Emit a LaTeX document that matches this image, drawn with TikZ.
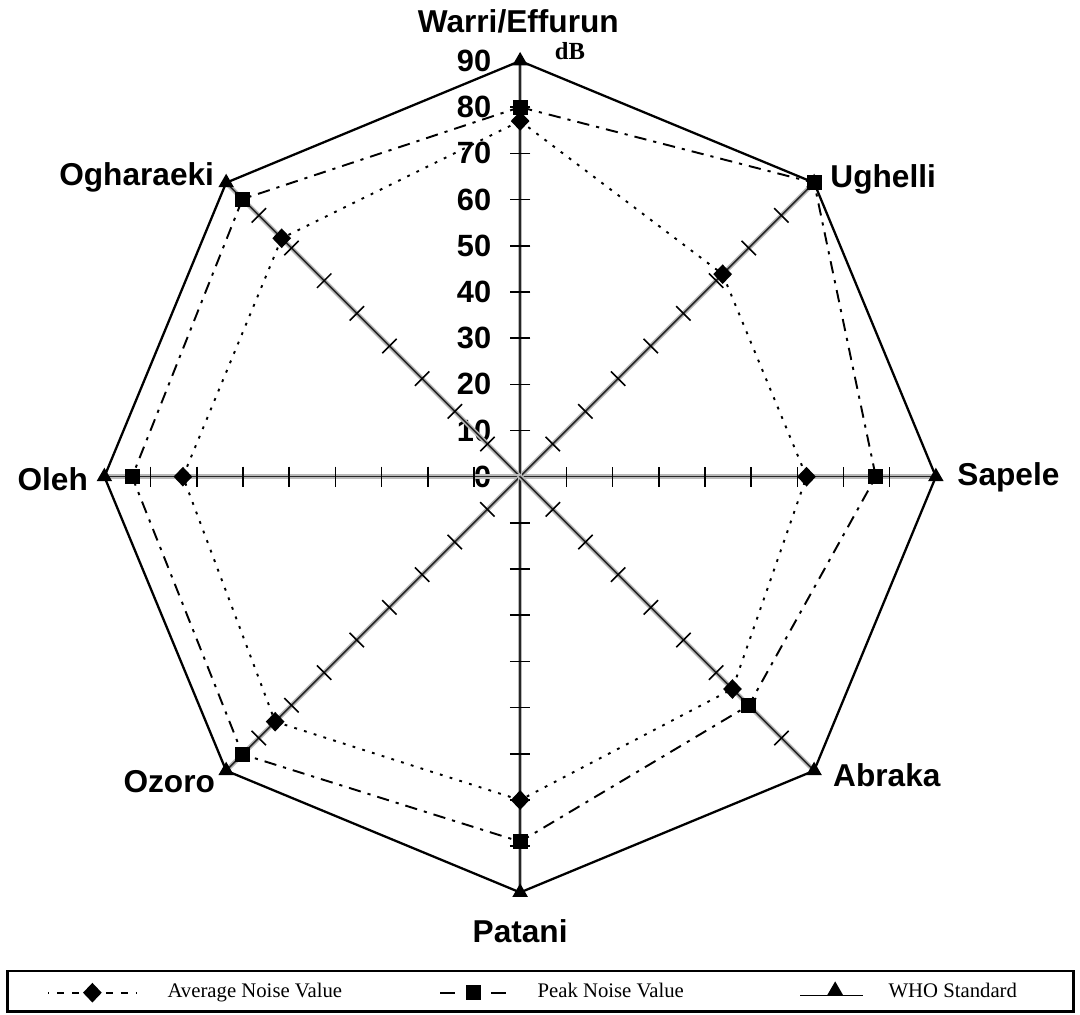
\documentclass[tikz,border=0pt]{standalone}
\usepackage{fontspec}
\setmainfont{Liberation Serif}
\setsansfont{Liberation Sans}
\usetikzlibrary{calc}
\usetikzlibrary{shapes.geometric}

\tikzset{
  axisband/.style={gray!55,line width=2.6pt},
  axisline/.style={black!85,line width=0.9pt},
  tickline/.style={black,line width=0.9pt},
  avgline/.style={black,line width=1.1pt,dash pattern=on 1.6pt off 4.2pt},
  peakline/.style={black,line width=1.1pt,dash pattern=on 7pt off 4pt on 1.8pt off 4pt},
  wholine/.style={black,line width=1.3pt},
  avgmark/.style={diamond,fill=black,inner sep=0pt,minimum width=0.38cm,minimum height=0.40cm},
  peakmark/.style={rectangle,fill=black,inner sep=0pt,minimum size=0.30cm},
  whomark/.style={regular polygon,regular polygon sides=3,fill=black,inner sep=0pt,minimum size=0.36cm},
  site/.style={font=\fontsize{18}{20}\sffamily\bfseries,inner sep=0pt},
  dblabel/.style={font=\fontsize{17.5}{20}\sffamily\bfseries,inner sep=0pt,anchor=east},
  legtext/.style={font=\fontsize{11.8}{13}\rmfamily,inner sep=0pt,anchor=west,text height=1.6ex,text depth=.35ex},
}

\begin{document}
\begin{tikzpicture}[x=0.0924cm,y=0.0924cm]
\useasboundingbox (-112.6,-116.5) rectangle (121.2,103.2);
\coordinate(O) at (0,0);

% scale on the Warri axis
\foreach \v in {0,10,...,90}
  \node[dblabel] (lab\v) at (-6.2,\v) {\v};
\node[font=\fontsize{14}{16}\rmfamily\bfseries,inner sep=0pt] (unit) at (10.8,92.2) {dB};

% eight axes with ticks
\foreach \a in {0,45,...,315}{
  \draw[axisband] (O) -- (\a:90);
  \draw[axisline] (O) -- (\a:90);
  \foreach \r in {10,20,...,80}
    \draw[tickline,rotate=\a] (\r,-2.2) -- (\r,2.2);
}

% data points, starting at Warri and going clockwise
\foreach \v [count=\i] in {77,62,62,65,70,75,73,73}
  \coordinate (A\i) at ({90-45*(\i-1)}:\v);
\foreach \v [count=\i] in {80,90,77,70,79,85,84,85}
  \coordinate (P\i) at ({90-45*(\i-1)}:\v);
\foreach \v [count=\i] in {90,90,90,90,90,90,90,90}
  \coordinate (W\i) at ({90-45*(\i-1)}:\v);

\draw[wholine] (W1)--(W2)--(W3)--(W4)--(W5)--(W6)--(W7)--(W8)--cycle;
\draw[peakline] (P1)--(P2)--(P3)--(P4)--(P5)--(P6)--(P7)--(P8)--cycle;
\draw[avgline] (A1)--(A2)--(A3)--(A4)--(A5)--(A6)--(A7)--(A8)--cycle;

\foreach \i in {1,...,8}{
  \node[whomark] (w\i) at (W\i) {};
  \node[avgmark] (a\i) at (A\i) {};
  \node[peakmark] (p\i) at (P\i) {};
}

% site names
\node[site] (warri) at (-0.4,98.5) {Warri/Effurun};
\node[site,anchor=west] (ughelli) at (67.1,64.3) {Ughelli};
\node[site,anchor=west] (sapele) at (94.6,-0.2) {Sapele};
\node[site,anchor=west] (abraka) at (67.7,-64.7) {Abraka};
\node[site] (patani) at (0,-98.3) {Patani};
\node[site,anchor=east] (ozoro) at (-66.0,-66.0) {Ozoro};
\node[site,anchor=east] (oleh) at (-93.5,-0.6) {Oleh};
\node[site,anchor=east] (ogharaeki) at (-66.2,64.7) {Ogharaeki};

% legend
\draw[black,line width=1.5pt] (-111,-107) rectangle (119.8,-115.8);
\node[avgmark] (legavg) at (-92.6,-111.7) {};
\draw[black,line width=1.1pt,dash pattern=on 4pt off 4.5pt] (legavg.west) ++(-0.8,0) -- (-102.2,-111.7);
\draw[black,line width=1.1pt,dash pattern=on 4pt off 4.5pt] (legavg.east) ++(0.8,0) -- (-82.9,-111.7);
\node[legtext] (legavgtxt) at (-76.4,-111.7) {Average Noise Value};

\node[peakmark] (legpeak) at (-10.2,-111.7) {};
\draw[black,line width=1.1pt] (legpeak.west) ++(-2.3,0) -- ++(-3.2,0);
\draw[black,line width=1.1pt] (legpeak.east) ++(2.3,0) -- ++(3.2,0);
\node[legtext] (legpeaktxt) at (3.7,-111.7) {Peak Noise Value};

\node[whomark] (legwho) at (68.2,-111.2) {};
\draw[black,line width=0.6pt] (60.6,-112.3) -- (74.2,-112.3);
\node[legtext] (legwhotxt) at (79.7,-111.7) {WHO Standard};
\end{tikzpicture}
\end{document}
